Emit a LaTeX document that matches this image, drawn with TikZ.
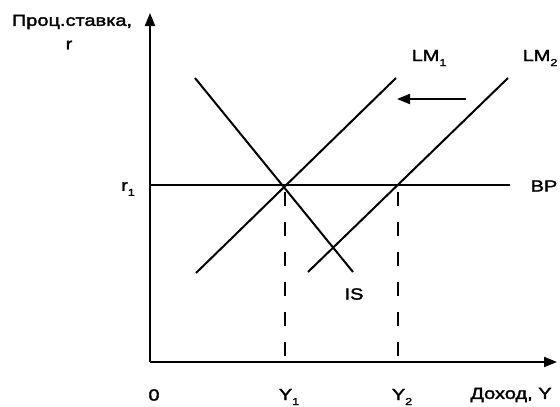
\documentclass[tikz,border=0pt]{standalone}
\usepackage{fontspec}
\setmainfont{Liberation Sans}[FakeStretch=1.25,FakeBold=2]
\usetikzlibrary{arrows.meta}
\newcommand{\subidx}[1]{\raisebox{-5pt}{\fontsize{10}{10}\selectfont #1}}
\tikzset{
  curve/.style={line width=2pt},
  axis/.style={line width=2pt,-{Triangle[length=13pt,width=10pt]}},
  guide/.style={line width=2.4pt,dash pattern=on 14pt off 16pt,dash phase=23pt},
  lbl/.style={inner sep=0pt,font=\fontsize{16}{18}\selectfont},
  movearrow/.style={line width=2pt,-{Triangle[length=13pt,width=10pt]}}
}
\begin{document}
\begin{tikzpicture}[x=1pt,y=-1pt]
\useasboundingbox (0,0) rectangle (560,407);
% axes
\coordinate (O) at (150,362);
\coordinate (ytip) at (150,13);
\coordinate (xtip) at (557,362);
\draw[axis] (O) -- (ytip);
\draw[axis] (O) -- (xtip);
% key points
\coordinate (E1) at (285,185);
\coordinate (E2) at (398,185);
\coordinate (r1s) at (150,185);
\coordinate (BPe) at (510,185);
\coordinate (ISa) at (195,78);
\coordinate (ISb) at (353,272);
\coordinate (LM1a) at (196,273);
\coordinate (LM1b) at (396,78);
\coordinate (LM2a) at (308,272);
\coordinate (LM2b) at (508,78);
\coordinate (arrS) at (466,99);
\coordinate (arrE) at (397,99);
% curves
\draw[curve] (r1s) -- (BPe);
\draw[curve] (ISa) -- (ISb);
\draw[curve] (LM1a) -- (LM1b);
\draw[curve] (LM2a) -- (LM2b);
\draw[movearrow] (arrS) -- (arrE);
\draw[guide] (E1) -- (E1 |- O);
\draw[guide] (E2) -- (E2 |- O);
% labels
\node[lbl] (ylab) at (72,22) {Проц.ставка,};
\node[lbl] (rlab) at (69,45) {r};
\node[lbl] (r1lab) at (128,189) {r\subidx{1}};
\node[lbl] (BPlab) at (544,186) {BP};
\node[lbl] (ISlab) at (354,294) {IS};
\node[lbl] (LM1lab) at (429,58) {LM\subidx{1}};
\node[lbl] (LM2lab) at (540,58) {LM\subidx{2}};
\node[lbl] (zero) at (154,395) {0};
\node[lbl] (Y1lab) at (289,397) {Y\subidx{1}};
\node[lbl] (Y2lab) at (402,397) {Y\subidx{2}};
\node[lbl] (xlab) at (511,395) {Доход, Y};
\end{tikzpicture}
\end{document}
